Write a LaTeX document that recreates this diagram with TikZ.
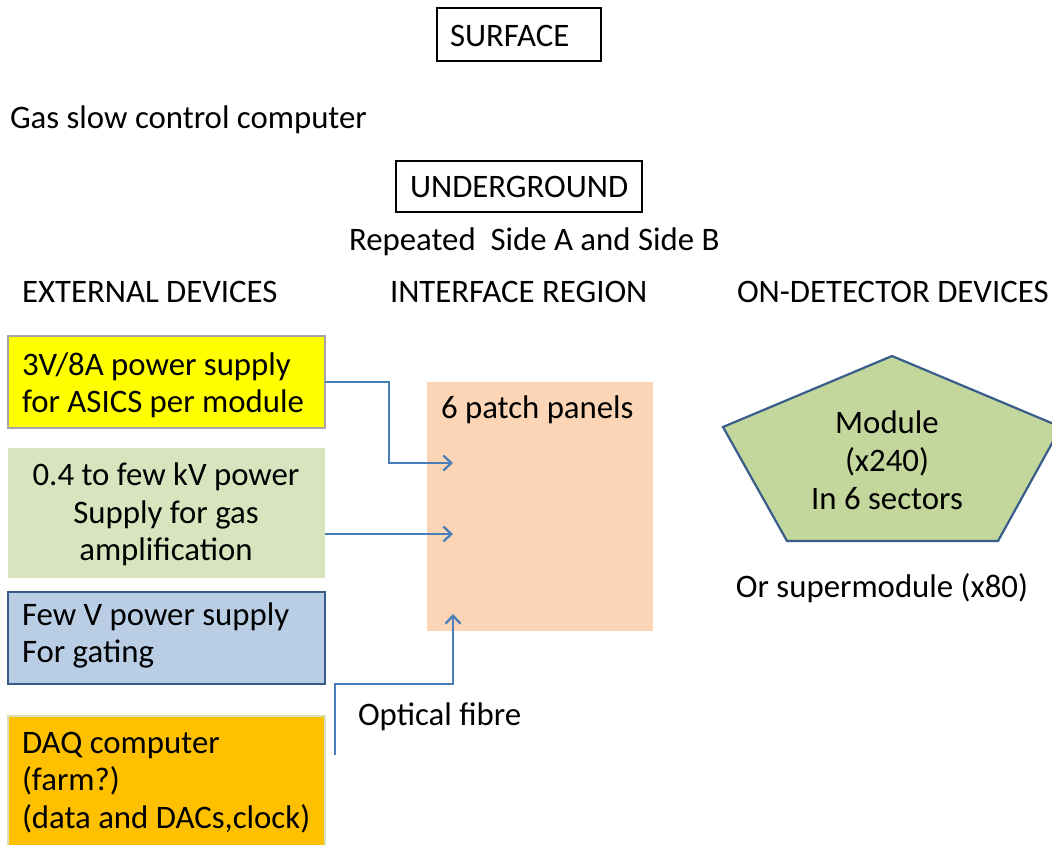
\documentclass[tikz,border=0pt]{standalone}
\usepackage{fontspec}
\setmainfont{Carlito}
\usetikzlibrary{arrows.meta}
\definecolor{arrowblue}{HTML}{4A7EBB}
\definecolor{darkblue}{HTML}{385D8A}
\definecolor{ylw}{HTML}{FFFF00}
\definecolor{grn}{HTML}{D7E4BD}
\definecolor{blu}{HTML}{B9CDE5}
\definecolor{org}{HTML}{FFC000}
\definecolor{peach}{HTML}{FBD5B5}
\definecolor{pent}{HTML}{C3D69B}
\begin{document}
\begin{tikzpicture}[x=1pt,y=-1pt,
  every node/.style={inner sep=0pt,outer sep=0pt},
  txt/.style={font=\fontsize{32.8}{38}\selectfont,anchor=base west},
  ctxt/.style={font=\fontsize{32.8}{38}\selectfont,anchor=base},
  titlebox/.style={draw=black,line width=1.3pt},
  devbox/.style={line width=1.6pt},
  conn/.style={draw=arrowblue,line width=2.3pt,-{Straight Barb[length=8pt,width=15pt,line width=2.3pt]}}
]
\useasboundingbox (0,0) rectangle (1052,844);
\fill[white] (0,0) rectangle (1052,844);

% title boxes
\draw[titlebox] (437,8) rectangle (601,61);
\node[txt] (surface) at (450,46) {SURFACE};
\draw[titlebox] (396,161) rectangle (642,212);
\node[txt] (underground) at (410,197) {UNDERGROUND};

\node[txt] (gas) at (10,128) {Gas slow control computer};
\node[txt] (repeated) at (349,250) {Repeated\ \ Side A and Side B};

\node[txt] (ext) at (22,302) {EXTERNAL DEVICES};
\node[txt] (intf) at (390,302) {INTERFACE REGION};
\node[txt] (ondet) at (737,302) {ON-DETECTOR DEVICES};

% external device boxes
\path[devbox,fill=ylw,draw=gray!70] (8,336) rectangle (325,428);
\node[txt] (y1) at (22,375) {3V/8A power supply};
\node[txt] (y2) at (22,412) {for ASICS per module};

\path[fill=grn] (8,448) rectangle (325,578);
\node[ctxt] (g1) at (166,485) {0.4 to few kV power};
\node[ctxt] (g2) at (166,523) {Supply for gas};
\node[ctxt] (g3) at (166,560) {amplification};

\path[devbox,fill=blu,draw=darkblue] (8,592) rectangle (325,684);
\node[txt] (b1) at (22,625) {Few V power supply};
\node[txt] (b2) at (22,662) {For gating};

\path[devbox,fill=org,draw=pent!70] (8,716) rectangle (325,850);
\node[txt] (o1) at (22,753) {DAQ computer};
\node[txt] (o2) at (22,790) {(farm?)};
\node[txt] (o3) at (22,828) {(data and DACs,clock)};

% interface region
\fill[peach] (427,382) rectangle (653,631);
\node[txt] (patch) at (441,418) {6 patch panels};

% on-detector
\draw[fill=pent,draw=darkblue,line width=2.2pt,line join=miter]
  (892,356) -- (1061,427) -- (998,541) -- (787,541) -- (723,427) -- cycle;
\node[ctxt] (m1) at (887,433) {Module};
\node[ctxt] (m2) at (887,471) {(x240)};
\node[ctxt] (m3) at (887,509) {In 6 sectors};
\node[ctxt] (super) at (882,597) {Or supermodule (x80)};

\node[txt] (optical) at (358,725) {Optical fibre};

% connectors
\coordinate (a1s) at (325,382);
\coordinate (a1e) at (453,463);
\coordinate (a2s) at (325,534);
\coordinate (a2e) at (453,534);
\coordinate (a3s) at (335,755);
\coordinate (a3e) at (453,614);
\draw[conn] (a1s) -- (389,382) |- (a1e);
\draw[conn] (a2s) -- (a2e);
\draw[conn] (a3s) -- (335,684) -| (a3e);
\end{tikzpicture}
\end{document}
